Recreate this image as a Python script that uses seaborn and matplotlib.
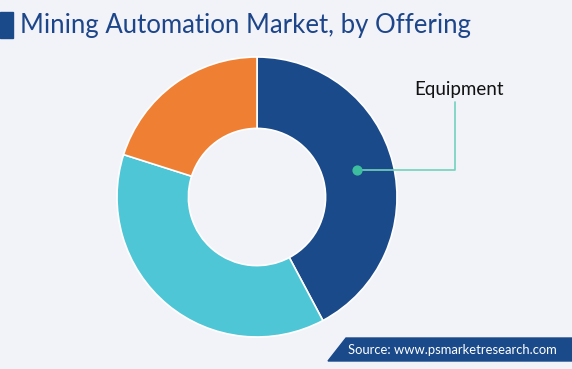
import matplotlib
matplotlib.use('Agg')
import matplotlib.pyplot as plt
import seaborn as sns
from matplotlib.patches import Polygon, Rectangle

# ── Данные ────────────────────────────────────────────────────────────────────
segments = ['Equipment', 'Software', 'Services']
shares   = [42.2, 37.7, 20.1]
colors   = ['#1a4a8a', '#4ec6d6', '#ef8033']
labelled = 'Equipment'

TITLE  = 'Mining Automation Market, by Offering'
SOURCE = 'Source: www.psmarketresearch.com'
BG     = '#f2f3f8'

sns.set_theme(style='white')
plt.rcParams['font.family'] = ['Lato', 'DejaVu Sans']

W, H = 572, 369
fig = plt.figure(figsize=(W / 100, H / 100), dpi=100, facecolor=BG)

# ── Кольцевая диаграмма ───────────────────────────────────────────────────────
cx, cy, r = 257, 197, 140
ax = fig.add_axes([(cx - r) / W, (H - cy - r) / H, 2 * r / W, 2 * r / H])
ax.set_facecolor(BG)
wedges, _ = ax.pie(shares, colors=sns.color_palette(colors), startangle=90,
                   counterclock=False, radius=1,
                   wedgeprops=dict(width=0.51, edgecolor='white', linewidth=1.2))
ax.set_xlim(-1, 1); ax.set_ylim(-1, 1)
ax.set_aspect('equal')
ax.axis('off')

# подпись сегмента
i = segments.index(labelled)
dot = (100 / r, 27 / r)
corner = (198 / r, 27 / r)
top = (198 / r, 95 / r)
ax.plot([dot[0], corner[0], top[0]], [dot[1], corner[1], top[1]],
        color='#72d2bd', lw=1.2, clip_on=False, zorder=4)
ax.scatter([dot[0]], [dot[1]], s=40, color='#3dbf9f', zorder=5, clip_on=False)
ax.text(top[0] + 4 / r, top[1] + 13 / r, segments[i], ha='center', va='center',
        fontsize=13.5, color='#111111', clip_on=False)

# ── Заголовок ─────────────────────────────────────────────────────────────────
fig.patches.append(Rectangle((0, 1 - 38 / H), 13 / W, 26 / H,
                             transform=fig.transFigure, color='#1a4a8a'))
fig.text(20 / W, 1 - 25 / H, TITLE, ha='left', va='center',
         fontsize=18.5, color='#1d4589')

# ── Источник ──────────────────────────────────────────────────────────────────
fig.patches.append(Polygon([(328 / W, 1 - 361 / H), (346 / W, 1 - 338 / H),
                            (1, 1 - 338 / H), (1, 1 - 361 / H)],
                           closed=True, transform=fig.transFigure,
                           color='#1a4a8a'))
fig.text(348 / W, 1 - 350 / H, SOURCE, ha='left', va='center',
         fontsize=9.4, color='white')

fig.savefig('out.png', dpi=100, facecolor=BG)
